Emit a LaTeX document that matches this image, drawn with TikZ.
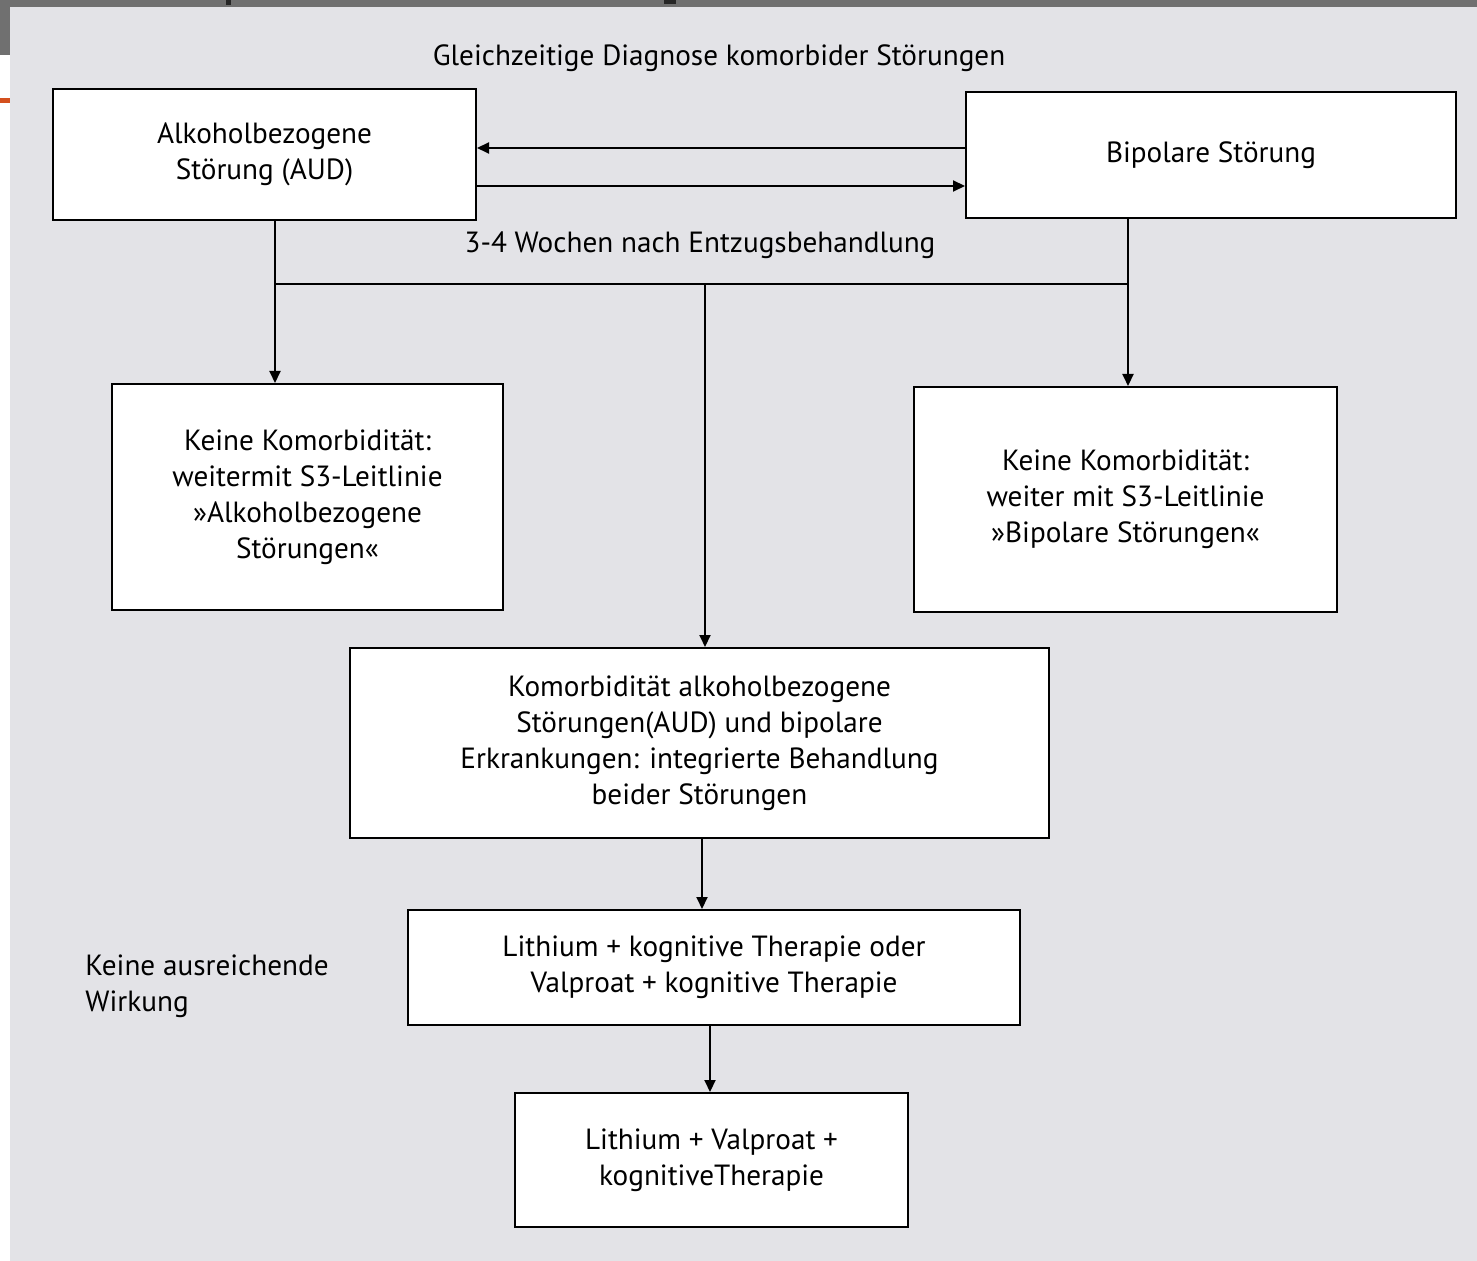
\documentclass[tikz,border=0pt]{standalone}
\usepackage{fontspec}
\setmainfont{PT Sans}
\usetikzlibrary{arrows.meta}
\definecolor{bandgray}{HTML}{707070}
\definecolor{panel}{HTML}{E3E3E7}
\definecolor{accent}{HTML}{D4501E}
\tikzset{
  box/.style={draw=black, line width=1pt, fill=white, align=center,
    font=\fontsize{14.6}{18}\selectfont, inner sep=0pt},
  lbl/.style={align=center, font=\fontsize{14.6}{18}\selectfont, inner sep=0pt},
  link/.style={draw=black, line width=1pt},
  arr/.style={link, -{Triangle[length=6pt, width=5.5pt]}},
}
\begin{document}
\begin{tikzpicture}[x=0.5pt, y=-0.5pt]
\useasboundingbox (0,0) rectangle (1477,1261);
% page background, header band and panel
\fill[white] (0,0) rectangle (1477,1261);
\fill[bandgray] (0,0) rectangle (1477,7);
\fill[bandgray] (0,0) rectangle (10,55);
\fill[panel] (10,7) rectangle (1477,1261);
\fill[accent] (0,98) rectangle (10,103);
\fill[black!85] (226,0) rectangle (231,5);
\fill[black!85] (664,0) rectangle (676,4);

% headings
\node[lbl] (top) at (719,58) {Gleichzeitige Diagnose komorbider Störungen};
\node[lbl] (wait) at (700,245) {3-4 Wochen nach Entzugsbehandlung};

% boxes
\node[box, minimum width=211.5pt, minimum height=65.5pt] (aud) at (264.5,154.5)
  {Alkoholbezogene\\Störung (AUD)};
\node[box, minimum width=245pt, minimum height=63pt] (bip) at (1211,155)
  {Bipolare Störung};
\node[box, minimum width=195.5pt, minimum height=113pt] (kl) at (307.5,497)
  {Keine Komorbidität:\\weitermit S3-Leitlinie\\»Alkoholbezogene\\Störungen«};
\node[box, minimum width=211.5pt, minimum height=112.5pt] (kr) at (1125.5,499.5)
  {Keine Komorbidität:\\weiter mit S3-Leitlinie\\»Bipolare Störungen«};
\node[box, minimum width=349.5pt, minimum height=95pt] (mid) at (699.5,743)
  {Komorbidität alkoholbezogene\\Störungen(AUD) und bipolare\\Erkrankungen: integrierte Behandlung\\beider Störungen};
\node[box, minimum width=306pt, minimum height=57.5pt] (lith) at (714,967.5)
  {Lithium + kognitive Therapie oder\\Valproat + kognitive Therapie};
\node[box, minimum width=196.5pt, minimum height=67pt] (fin) at (711.5,1160)
  {Lithium + Valproat +\\kognitiveTherapie};
\node[lbl, align=left, anchor=west] (weak) at (85,986)
  {Keine ausreichende\\Wirkung};

% junction points
\coordinate (jl) at (275,284);
\coordinate (jm) at (705,284);
\coordinate (jr) at (1128,284);
\coordinate (ya) at (0,148);
\coordinate (yb) at (0,186);

% connectors
\draw[arr] (bip.west |- ya) -- (aud.east |- ya);
\draw[arr] (aud.east |- yb) -- (bip.west |- yb);
\draw[link] (aud.south -| jl) -- (jl) -- (jr) -- (bip.south -| jr);
\draw[arr] (jl) -- (kl.north -| jl);
\draw[arr] (jr) -- (kr.north -| jr);
\draw[arr] (jm) -- (mid.north -| jm);
\draw[arr] (mid.south -| 702,0) -- (lith.north -| 702,0);
\draw[arr] (lith.south -| 710,0) -- (fin.north -| 710,0);
\end{tikzpicture}
\end{document}
